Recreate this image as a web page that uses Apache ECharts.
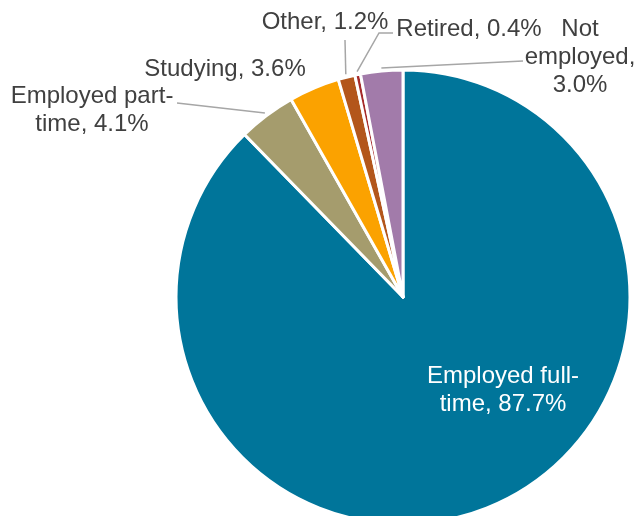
<!DOCTYPE html>
<html>
<head>
<meta charset="utf-8">
<script src="https://cdn.jsdelivr.net/npm/echarts@6/dist/echarts.min.js"></script>
<style>
  html, body { margin: 0; padding: 0; background: #fff; }
  #chart { width: 636px; height: 516px; }
</style>
</head>
<body>
<div id="chart"></div>
<script>
// ---- data ----
const categories = ['Employed full-time', 'Employed part-time', 'Studying', 'Other', 'Retired', 'Not employed'];
const values = [87.7, 4.1, 3.6, 1.2, 0.4, 3.0];
const labelTexts = [
  'Employed full-\ntime, 87.7%',
  'Employed part-\ntime, 4.1%',
  'Studying, 3.6%',
  'Other, 1.2%',
  'Retired, 0.4%',
  'Not\nemployed,\n3.0%'
];

// ---- styling / layout ----
const colors = ['#00759A', '#A59C6D', '#FBA200', '#B3561B', '#A52A2A', '#A27BAA'];
const pieCenter = [403, 297];
const pieRadius = 227;
const lineStartGap = 3;
const labelPos = [
  { x: 503, y: 390 },
  { x: 92, y: 110 },
  { x: 225, y: 69 },
  { x: 325, y: 22 },
  { x: 469, y: 29 },
  { x: 580, y: 57 }
];
const lineEnds = [
  null,
  [[177, 103]],
  null,
  [[345, 40]],
  [[379, 33], [393, 33]],
  [[523, 61]]
];

const total = values.reduce((a, b) => a + b, 0);
function edgePoint(i) {
  let cum = 0;
  for (let k = 0; k < i; k++) cum += values[k];
  const frac = (cum + values[i] / 2) / total;
  const ang = (90 - 360 * frac) * Math.PI / 180;
  const r = pieRadius + lineStartGap;
  return [pieCenter[0] + r * Math.cos(ang), pieCenter[1] - r * Math.sin(ang)];
}

const chart = echarts.init(document.getElementById('chart'), null, { renderer: 'canvas' });

const seriesData = categories.map((name, i) => ({
  name: name,
  value: values[i],
  itemStyle: { color: colors[i] },
  label: i === 0 ? { color: '#ffffff' } : {},
  labelLine: { show: lineEnds[i] !== null }
}));

chart.setOption({
  animation: false,
  backgroundColor: '#ffffff',
  series: [{
    type: 'pie',
    center: pieCenter,
    radius: pieRadius,
    startAngle: 90,
    clockwise: true,
    avoidLabelOverlap: false,
    itemStyle: { borderColor: '#ffffff', borderWidth: 3 },
    label: {
      show: true,
      position: 'outside',
      formatter: p => labelTexts[p.dataIndex],
      fontFamily: 'Liberation Sans, Arial, sans-serif',
      fontSize: 24,
      lineHeight: 28,
      color: '#404040',
      align: 'center'
    },
    labelLine: {
      show: true,
      length: 10,
      length2: 10,
      lineStyle: { color: '#a6a6a6', width: 1.5 }
    },
    labelLayout: function (params) {
      const i = params.dataIndex;
      const out = {
        x: labelPos[i].x,
        y: labelPos[i].y,
        align: 'center',
        verticalAlign: 'middle'
      };
      if (lineEnds[i]) {
        out.labelLinePoints = [edgePoint(i)].concat(lineEnds[i]);
      }
      return out;
    },
    emphasis: { disabled: true },
    data: seriesData
  }]
});
</script>
</body>
</html>
